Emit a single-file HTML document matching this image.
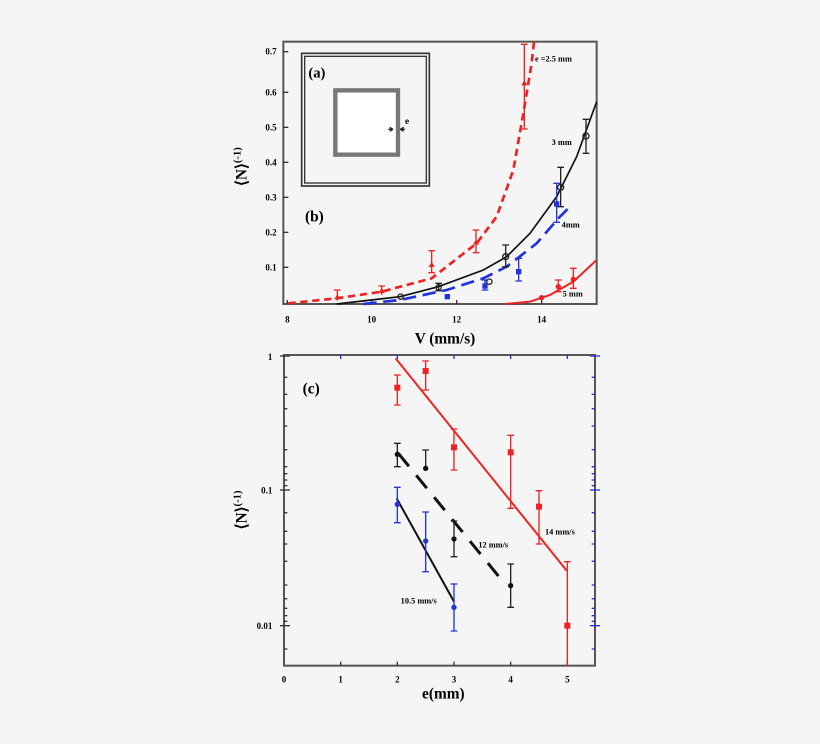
<!DOCTYPE html>
<html><head><style>body{margin:0;background:#f5f5f5}svg{display:block}text{font-family:"Liberation Serif",serif;font-weight:bold}</style></head><body>
<svg width="820" height="744" viewBox="0 0 820 744">
<rect width="820" height="744" fill="#f5f5f5"/>
<!-- TOP PLOT -->
<g transform="translate(230,30) scale(0.33333)">
<rect x="160" y="35" width="940" height="787" fill="none" stroke="#555" stroke-width="6"/>
<g stroke="#333" stroke-width="4">
<line x1="172" y1="822" x2="172" y2="810"/><line x1="425" y1="822" x2="425" y2="810"/><line x1="680" y1="822" x2="680" y2="810"/><line x1="935" y1="822" x2="935" y2="810"/>
<line x1="160" y1="65" x2="175" y2="65"/><line x1="160" y1="187" x2="175" y2="187"/><line x1="160" y1="292" x2="175" y2="292"/><line x1="160" y1="397" x2="175" y2="397"/><line x1="160" y1="502" x2="175" y2="502"/><line x1="160" y1="607" x2="175" y2="607"/><line x1="160" y1="712" x2="175" y2="712"/>
</g>
<g font-size="27" text-anchor="end">
<text x="140" y="74">0.7</text><text x="140" y="196">0.6</text><text x="140" y="301">0.5</text><text x="140" y="406">0.4</text><text x="140" y="511">0.3</text><text x="140" y="616">0.2</text><text x="140" y="721">0.1</text></g>
<g font-size="27" text-anchor="middle"><text x="172" y="877">8</text><text x="425" y="877">10</text><text x="680" y="877">12</text><text x="935" y="877">14</text></g>
<text x="645" y="940" font-size="46" text-anchor="middle">V (mm/s)</text>
<text transform="translate(50,410) rotate(-90)" font-size="46" text-anchor="middle">⟨N⟩<tspan dy="-18" font-size="32">(-1)</tspan></text>
<!-- inset -->
<rect x="215" y="70" width="383" height="398" fill="none" stroke="#333" stroke-width="5"/>
<rect x="224" y="79" width="365" height="380" fill="none" stroke="#333" stroke-width="4"/>
<rect x="316" y="181" width="188" height="193" fill="#fff" stroke="#777" stroke-width="13"/>
<text x="235" y="142" font-size="44">(a)</text>
<text x="225" y="575" font-size="46">(b)</text>
<text x="525" y="282" font-size="28">e</text>
<path d="M475 298 l14 0 M489 298 l-10 -6 M489 298 l-10 6 M525 298 l-14 0 M511 298 l10 -6 M511 298 l10 6" stroke="#222" stroke-width="4" fill="none"/>
<!-- curves -->
<polyline points="175,820 320,805 455,785 605,745 740,640 800,560 850,420 880,250 905,100 912,35" fill="none" stroke="#e22" stroke-width="8" stroke-dasharray="22,14"/>
<polyline points="320,822 510,800 625,770 760,720 830,680 900,610 980,500 1040,380 1100,215" fill="none" stroke="#111" stroke-width="5"/>
<polyline points="400,822 510,810 650,780 760,745 830,710 920,640 990,560 1015,535" fill="none" stroke="#2233dd" stroke-width="8" stroke-dasharray="40,20"/>
<polyline points="825,822 900,815 960,795 1030,755 1100,690" fill="none" stroke="#e22" stroke-width="6"/>
<!-- error bars -->
<g stroke="#e22" stroke-width="4" fill="none">
<path d="M322 780V812M312 780h20M455 768V795M445 768h20M605 662V728M595 662h20M595 728h20M738 600V668M728 600h20M728 668h20M883 43V297M873 43h20M873 297h20"/>
<path d="M985 750V785M975 750h20M975 785h20M1030 715V775M1020 715h20M1020 775h20"/>
</g>
<g stroke="#222" stroke-width="4" fill="none"><path d="M626 760V782M616 760h20M616 782h20M827 645V710M817 645h20M817 710h20M992 412V530M982 412h20M982 530h20M1068 268V370M1058 268h20M1058 370h20"/></g>
<g stroke="#2233dd" stroke-width="4" fill="none"><path d="M765 750V780M755 750h20M755 780h20M866 685V753M856 685h20M856 753h20M980 460V577M970 460h20M970 577h20"/></g>
<g fill="#e22"><path d="M322 792l9 16h-18z"/><path d="M455 773l9 16h-18z"/><path d="M605 695l9 16h-18z"/><path d="M738 628l9 16h-18z"/><path d="M883 150l9 16h-18z"/>
<circle cx="935" cy="803" r="8"/><circle cx="985" cy="770" r="8"/><circle cx="1030" cy="748" r="8"/></g>
<g fill="none" stroke="#222" stroke-width="4"><circle cx="512" cy="800" r="8"/><circle cx="626" cy="772" r="8"/><circle cx="778" cy="755" r="8"/><circle cx="827" cy="680" r="9"/><circle cx="992" cy="472" r="9"/><circle cx="1068" cy="318" r="9"/></g>
<g fill="#2233dd"><rect x="644" y="792" width="16" height="16"/><rect x="757" y="760" width="16" height="16"/><rect x="858" y="717" width="16" height="16"/><rect x="972" y="514" width="16" height="16"/></g>
<g font-size="25"><text x="915" y="95">e =2.5 mm</text><text x="965" y="345">3 mm</text><text x="995" y="592">4mm</text><text x="998" y="800">5 mm</text></g>
</g>
<!-- BOTTOM PLOT -->
<g transform="translate(230,360) scale(0.33333)">
<rect x="162" y="-15" width="933" height="932" fill="none" stroke="#555" stroke-width="6"/>
<g stroke="#2233dd" stroke-width="4">
<line x1="332" y1="-15" x2="332" y2="-3"/><line x1="502" y1="-15" x2="502" y2="-3"/><line x1="672" y1="-15" x2="672" y2="-3"/><line x1="842" y1="-15" x2="842" y2="-3"/><line x1="1012" y1="-15" x2="1012" y2="-3"/>
<line x1="1080" y1="390" x2="1110" y2="390"/><line x1="1080" y1="797" x2="1110" y2="797"/><line x1="1080" y1="-12" x2="1110" y2="-12"/>
<path d="M1085 52h10M1085 103h10M1085 146h10M1085 198h10M1085 269h10M1085 320h10M1085 341h10M1085 360h10M1085 377h10M1085 458h10M1085 514h10M1085 552h10M1085 604h10M1085 675h10M1085 716h10M1085 745h10M1085 767h10M1085 784h10M1085 867h10"/>
</g>
<g stroke="#333" stroke-width="4">
<line x1="332" y1="917" x2="332" y2="905"/><line x1="502" y1="917" x2="502" y2="905"/><line x1="672" y1="917" x2="672" y2="905"/><line x1="842" y1="917" x2="842" y2="905"/><line x1="1012" y1="917" x2="1012" y2="905"/>
<line x1="150" y1="390" x2="180" y2="390"/><line x1="150" y1="797" x2="180" y2="797"/><line x1="150" y1="-12" x2="180" y2="-12"/>
<path d="M162 52h10M162 103h10M162 146h10M162 198h10M162 269h10M162 320h10M162 341h10M162 360h10M162 377h10M162 458h10M162 514h10M162 552h10M162 604h10M162 675h10M162 716h10M162 745h10M162 767h10M162 784h10M162 867h10"/>
</g>
<g font-size="27" text-anchor="end"><text x="127" y="0">1</text><text x="127" y="400">0.1</text><text x="127" y="807">0.01</text></g>
<g font-size="27" text-anchor="middle"><text x="162" y="968">0</text><text x="332" y="968">1</text><text x="502" y="968">2</text><text x="672" y="968">3</text><text x="842" y="968">4</text><text x="1012" y="968">5</text></g>
<text x="640" y="1015" font-size="46" text-anchor="middle">e(mm)</text>
<text transform="translate(50,450) rotate(-90)" font-size="46" text-anchor="middle">⟨N⟩<tspan dy="-18" font-size="32">(-1)</tspan></text>
<text x="218" y="100" font-size="46">(c)</text>
<line x1="497" y1="-5" x2="1010" y2="632" stroke="#e22" stroke-width="6"/>
<line x1="505" y1="280" x2="815" y2="660" stroke="#111" stroke-width="9" stroke-dasharray="50,35"/>
<line x1="500" y1="415" x2="672" y2="725" stroke="#111" stroke-width="6"/>
<g stroke="#e22" stroke-width="4" fill="none"><path d="M502 45V135M492 45h20M492 135h20M587 3V90M577 3h20M577 90h20M672 207V330M662 207h20M662 330h20M842 226V445M832 226h20M832 445h20M927 392V552M917 392h20M917 552h20M1012 605V917M1002 605h20"/></g>
<g stroke="#222" stroke-width="4" fill="none"><path d="M502 250V320M492 250h20M492 320h20M587 270V325M577 270h20M672 483V590M662 483h20M662 590h20M842 612V742M832 612h20M832 742h20"/></g>
<g stroke="#2233dd" stroke-width="4" fill="none"><path d="M502 382V488M492 382h20M492 488h20M587 456V635M577 456h20M577 635h20M672 672V813M662 672h20M662 813h20"/></g>
<g fill="#e22"><rect x="493" y="74" width="18" height="18"/><rect x="578" y="24" width="18" height="18"/><rect x="663" y="253" width="18" height="18"/><rect x="833" y="268" width="18" height="18"/><rect x="918" y="431" width="18" height="18"/><rect x="1003" y="788" width="18" height="18"/></g>
<g fill="#111"><circle cx="502" cy="283" r="8"/><circle cx="587" cy="325" r="8"/><circle cx="672" cy="537" r="8"/><circle cx="842" cy="677" r="8"/></g>
<g fill="#2233dd"><circle cx="502" cy="433" r="8"/><circle cx="587" cy="543" r="8"/><circle cx="672" cy="742" r="8"/></g>
<g font-size="25"><text x="945" y="523">14 mm/s</text><text x="745" y="562">12 mm/s</text><text x="512" y="730">10.5 mm/s</text></g>
</g>
</svg>
</body></html>
